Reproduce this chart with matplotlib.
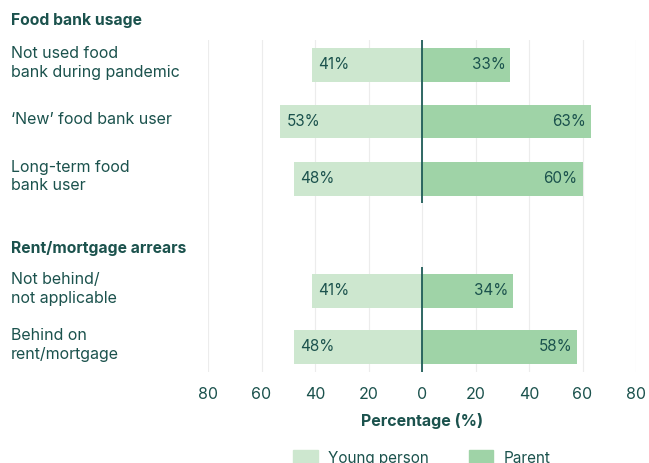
import matplotlib
matplotlib.use("Agg")
import matplotlib.pyplot as plt
from matplotlib.patches import Patch

plt.rcParams["font.family"] = ["Inter", "DejaVu Sans"]

# Survey responses, split by group
categories = [
    "Not used food\nbank during pandemic",
    "\u2018New\u2019 food bank user",
    "Long-term food\nbank user",
    "Not behind/\nnot applicable",
    "Behind on\nrent/mortgage",
]
young_person = [41, 53, 48, 41, 48]
parent = [33, 63, 60, 34, 58]
group_titles = ["Food bank usage", "Rent/mortgage arrears"]
x_ticks = [-80, -60, -40, -20, 0, 20, 40, 60, 80]

# layout, in pixel rows of the output image
row_y = [65, 121.5, 179, 291, 347]
title_y = [20, 248]
zero_spans = [(40, 203), (267, 372)]

TEXT = "#1b524d"
LIGHT = "#cde7cf"
DARK = "#9fd3a7"
ZERO = "#1f5c58"

W, H = 649, 463
fig = plt.figure(figsize=(W / 100, H / 100), dpi=100)
x0, x1, y_top, y_bot = 208, 636, 40, 372
ax = fig.add_axes([x0 / W, 1 - y_bot / H, (x1 - x0) / W, (y_bot - y_top) / H])
ax.set_xlim(-80, 80)
ax.set_ylim(y_bot, y_top)

bar_h = 33.5
ax.barh(row_y, [-v for v in young_person], height=bar_h, color=LIGHT, zorder=2)
ax.barh(row_y, parent, height=bar_h, color=DARK, zorder=2)

for y0, y1 in zero_spans:
    ax.vlines(0, y0, y1, color=ZERO, lw=1.3, zorder=3)

for y, v in zip(row_y, young_person):
    ax.annotate(f"{v}%", (-v, y), xytext=(4.5, 0), textcoords="offset points",
                ha="left", va="center", color=TEXT, fontsize=11, zorder=4)
for y, v in zip(row_y, parent):
    ax.annotate(f"{v}%", (v, y), xytext=(-3.5, 0), textcoords="offset points",
                ha="right", va="center", color=TEXT, fontsize=11, zorder=4)

ax.set_xticks(x_ticks)
ax.set_xticklabels([str(abs(t)) for t in x_ticks])
ax.set_yticks([])
ax.tick_params(axis="x", length=0, pad=10.5, labelsize=11.5, labelcolor=TEXT)
ax.grid(axis="x", color="#ececec", lw=0.8, zorder=0)
for s in ax.spines.values():
    s.set_visible(False)
ax.set_xlabel("Percentage (%)", fontsize=11.5, fontweight="bold", color=TEXT, labelpad=8.5)

# category and group labels sit in the left margin
for y, lab in zip(row_y, categories):
    fig.text(11 / W, 1 - (y - 2) / H, lab, ha="left", va="center",
             fontsize=11.5, color=TEXT, linespacing=1.25)
for y, t in zip(title_y, group_titles):
    fig.text(11 / W, 1 - y / H, t, ha="left", va="center",
             fontsize=11.3, fontweight="bold", color=TEXT)

handles = [Patch(color=LIGHT, label="Young person"), Patch(color=DARK, label="Parent")]
fig.legend(handles=handles, loc="center", bbox_to_anchor=(422 / W, 1 - 458 / H),
           ncol=2, frameon=False, fontsize=11, labelcolor=TEXT,
           handlelength=1.6, handleheight=1.0, handletextpad=0.7, columnspacing=2.6)

fig.savefig("out.png", dpi=100)
